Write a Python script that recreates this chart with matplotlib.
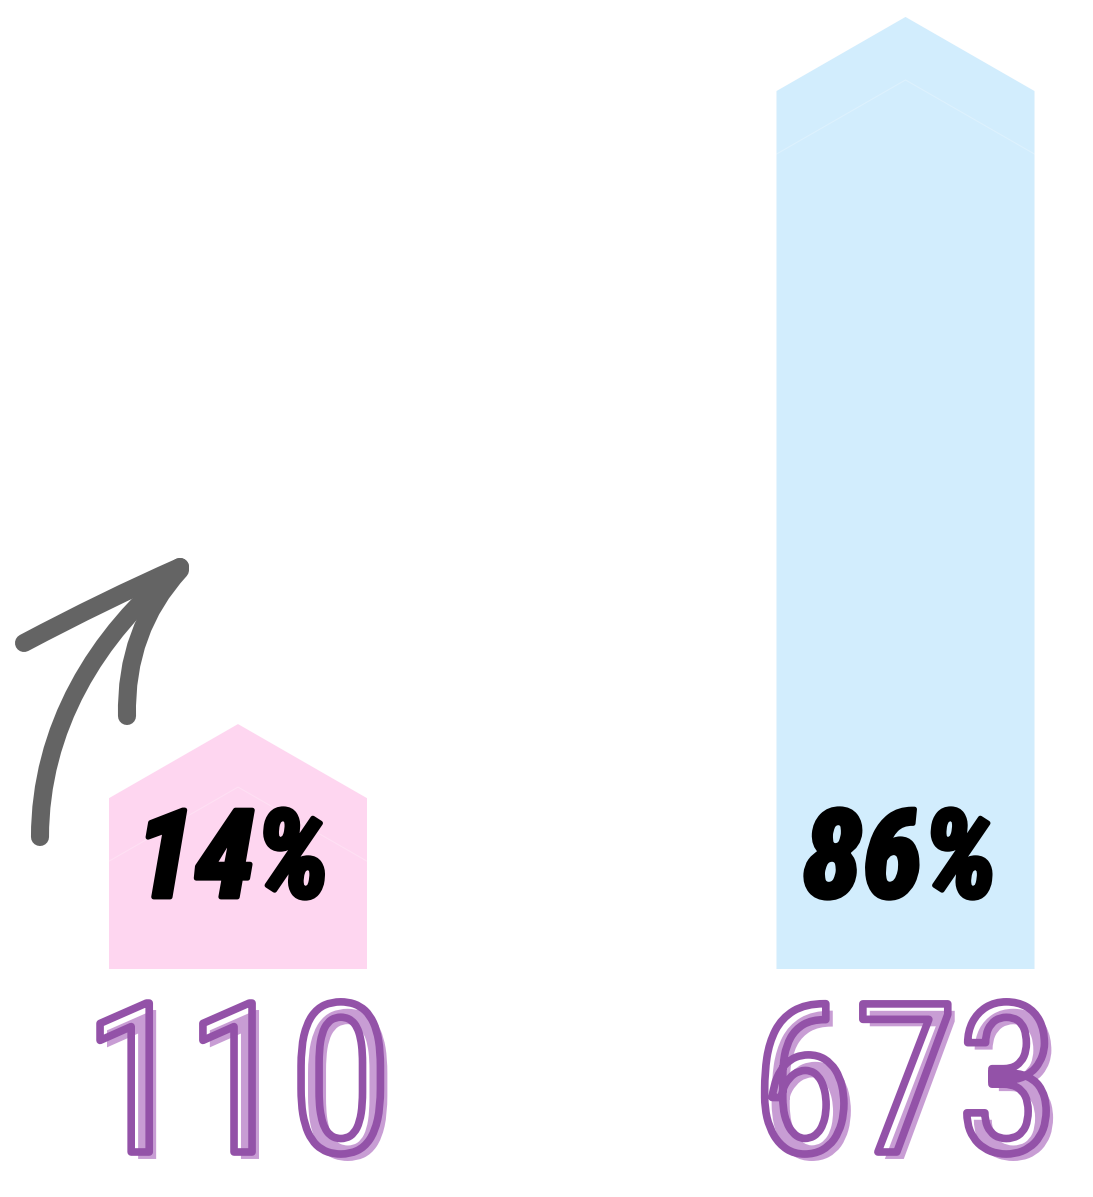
import matplotlib
matplotlib.use('Agg')
import matplotlib.pyplot as plt
from matplotlib import patheffects as pe
from matplotlib.path import Path
from matplotlib.patches import Polygon, PathPatch
from matplotlib import font_manager as fm

# ---- data ----
categories = ['Group A', 'Group B']
counts = [110, 673]
share_labels = ['14%', '86%']
count_labels = ['110', '673']
bar_colors = ['#FED6F0', '#D2EDFD']

# ---- fonts ----
names = {f.name for f in fm.fontManager.ttflist}
def pick(cands):
    for c in cands:
        if c in names:
            return c
    return 'DejaVu Sans'
narrow = pick(['Liberation Sans Narrow', 'Roboto Condensed', 'Open Sans Condensed'])
if narrow == 'DejaVu Sans':
    narrow = pick(['Roboto', 'Lato', 'DejaVu Sans'])
    pct_fs, num_fs = 76, 130
else:
    pct_fs, num_fs = 88, 150

W, H, DPI = 1093, 1197, 100
fig = plt.figure(figsize=(W / DPI, H / DPI), dpi=DPI)
fig.patch.set_facecolor('white')

ax = fig.add_axes([0, 0, 1, 1])
ax.axis('off')
px_per_unit = 1.256
base_px = 969
ax.set_ylim(-(H - base_px) / px_per_unit, base_px / px_per_unit)
spacing = 667.5
ax.set_xlim(-238 / spacing, (W - 238) / spacing)
bar_w = 258 / spacing
min_h = 26   # minimum body height (units)
roof = 59    # roof height (units)

for i, (v, c) in enumerate(zip(counts, bar_colors)):
    top = v + min_h
    xl, xr = i - bar_w / 2, i + bar_w / 2
    ax.add_patch(Polygon([(xl, 0), (xr, 0), (xr, top), (i, top + roof), (xl, top)],
                         closed=True, fc=c, ec='none', zorder=1))
    d = 63 / px_per_unit
    ax.plot([xl, i, xr], [top - d, top + roof - d, top - d], color='white',
            alpha=0.25, lw=0.8, zorder=2)

# percentage labels
pct_y = (base_px - 897) / px_per_unit
for i, lab in enumerate(share_labels):
    t = ax.text(i - 0.008, pct_y, lab, ha='center', va='baseline', fontsize=pct_fs,
                fontweight='heavy', style='italic', family=[narrow, 'DejaVu Sans'],
                color='black', zorder=5)
    t.set_path_effects([pe.withStroke(linewidth=3.5, foreground='black')])

# count labels (outlined with offset filled shadow)
num_y = (base_px - 1152) / px_per_unit
for i, lab in enumerate(count_labels):
    t = ax.text(i, num_y, lab, ha='center', va='baseline', fontsize=num_fs,
                family=[narrow, 'DejaVu Sans'], color='none', zorder=6)
    t.set_path_effects([
        pe.SimplePatchShadow(offset=(5, -5), shadow_rgbFace='#C89DD4', alpha=1.0),
        pe.Stroke(linewidth=5.5, foreground='#9352A8'),
    ])

# decorative hand-drawn arrow (pixel overlay)
ax2 = fig.add_axes([0, 0, 1, 1])
ax2.axis('off')
ax2.set_xlim(0, W)
ax2.set_ylim(H, 0)
arrow_col = '#646464'
paths = [
    Path([(40, 837), (40, 730), (95, 635), (180, 567)],
         [Path.MOVETO, Path.CURVE4, Path.CURVE4, Path.CURVE4]),
    Path([(180, 567), (105, 600), (24, 643)],
         [Path.MOVETO, Path.CURVE3, Path.CURVE3]),
    Path([(180, 570), (125, 630), (127, 716)],
         [Path.MOVETO, Path.CURVE3, Path.CURVE3]),
]
for p in paths:
    pp = PathPatch(p, fc='none', ec=arrow_col, lw=13, capstyle='round', joinstyle='round')
    ax2.add_patch(pp)

fig.savefig('out.png', dpi=DPI, facecolor='white')
